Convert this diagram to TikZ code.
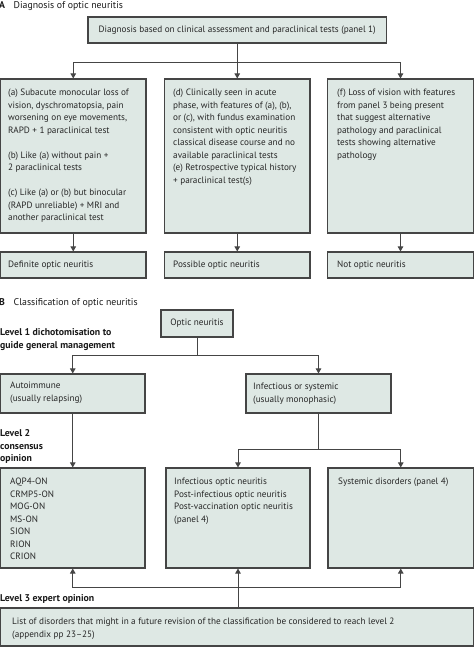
\documentclass[tikz,border=0pt]{standalone}
\usepackage{fontspec}
\setmainfont{PT Sans}
\usetikzlibrary{arrows.meta,fit}
\definecolor{boxfill}{HTML}{DEE8E4}
\definecolor{boxline}{HTML}{454545}
\newcommand{\fsz}{\fontsize{9.2}{12.5}\selectfont}
\newcommand{\hsz}{\fontsize{9.8}{12.6}\selectfont}
\tikzset{
  box/.style={draw=boxline, fill=boxfill, line width=1.1pt, inner sep=0pt},
  tx/.style={anchor=north west, inner sep=0pt, align=left, font=\fsz, text=black!85},
  hd/.style={anchor=north west, inner sep=0pt, align=left, font=\hsz, text=black!90},
  lab/.style={hd, font=\hsz\bfseries},
  conn/.style={draw=boxline, line width=1pt},
  arr/.style={conn, -{Triangle[width=5.5pt,length=5pt]}},
}
\begin{document}
\begin{tikzpicture}[x=1pt,y=-1pt]
\useasboundingbox (0,0) rectangle (474,648);
% ---------- A ----------
\node[lab] (hA) at (-1,-0.5) {\strut A};
\node[hd] (hAt) at (13.5,-0.5) {\strut Diagnosis of optic neuritis};
\node[box, fit={(88,17)(386.5,43)}] (top) {};
\node[font=\fsz, inner sep=0pt, text=black!85] (topt) at (top.center) {Diagnosis based on clinical assessment and paraclinical tests (panel 1)};
\node[box, fit={(0.5,79)(146,233)}] (a) {};
\node[box, fit={(164.5,79)(310,233)}] (d) {};
\node[box, fit={(327.5,79)(473.5,233)}] (f) {};
\node[box, fit={(0.5,252)(146,278)}] (def) {};
\node[box, fit={(164.5,252)(310,278)}] (pos) {};
\node[box, fit={(327.5,252)(473.5,278)}] (not) {};
\node[tx] (at) at (8,86.75) {\strut(a) Subacute monocular loss of\\vision, dyschromatopsia, pain\\worsening on eye movements,\\RAPD + 1 paraclinical test\\[12.5pt](b) Like (a) without pain +\\2 paraclinical tests\\[12.5pt](c) Like (a) or (b) but binocular\\(RAPD unreliable) + MRI and\\another paraclinical test};
\node[tx] (dt) at (173,86.75) {\strut(d) Clinically seen in acute\\phase, with features of (a), (b),\\or (c), with fundus examination\\consistent with optic neuritis\\classical disease course and no\\available paraclinical tests\\(e) Retrospective typical history\\+ paraclinical test(s)};
\node[tx] (ft) at (337,86.75) {\strut(f) Loss of vision with features\\from panel 3 being present\\that suggest alternative\\pathology and paraclinical\\tests showing alternative\\pathology};
\node[tx] (deft) at (8,258.75) {\strut Definite optic neuritis};
\node[tx] (post) at (173,258.75) {\strut Possible optic neuritis};
\node[tx] (nott) at (337,258.75) {\strut Not optic neuritis};
\coordinate (j1) at (237.25,62);
\draw[conn] (top.south) -- (j1);
\draw[arr] (j1) -| (a.north);
\draw[arr] (j1) -- (d.north);
\draw[arr] (j1) -| (f.north);
\draw[arr] (a.south) -- (def.north);
\draw[arr] (d.south) -- (pos.north);
\draw[arr] (f.south) -- (not.north);
% ---------- B ----------
\node[lab] (hB) at (-1,296.5) {\strut B};
\node[hd] (hBt) at (13.5,296.5) {\strut Classification of optic neuritis};
\node[box, fit={(161,310)(233,337)}] (on) {};
\node[font=\fsz, inner sep=0pt, text=black!85] (ont) at (on.center) {Optic neuritis};
\node[lab] (l1) at (0,326.5) {\strut Level 1 dichotomisation to\\guide general management};
\node[box, fit={(0.5,374)(145,413)}] (auto) {};
\node[box, fit={(246,374)(391,413)}] (inf) {};
\node[tx] (autot) at (10,379.75) {\strut Autoimmune\\(usually relapsing)};
\node[tx] (inft) at (253,380.75) {\strut Infectious or systemic\\(usually monophasic)};
\coordinate (j2) at (197,355);
\draw[conn] (on.south) -- (j2);
\draw[arr] (j2) -| (auto.north);
\draw[arr] (j2) -| (inf.north);
\node[lab] (l2) at (0,427.5) {\strut Level 2\\consensus\\opinion};
\node[box, fit={(0.5,468)(145,568)}] (la) {};
\node[box, fit={(166,468)(310,568)}] (lb) {};
\node[box, fit={(328,468)(473.5,568)}] (lc) {};
\node[tx] (lat) at (10,475.75) {\strut AQP4-ON\\CRMP5-ON\\MOG-ON\\MS-ON\\SION\\RION\\CRION};
\node[tx] (lbt) at (174,475.75) {\strut Infectious optic neuritis\\Post-infectious optic neuritis\\Post-vaccination optic neuritis\\(panel 4)};
\node[tx] (lct) at (338,475.75) {\strut Systemic disorders (panel 4)};
\draw[arr] (auto.south) -- (la.north);
\coordinate (j3) at (inf.south |- 0,449);
\draw[conn] (inf.south) -- (j3);
\draw[arr] (j3) -| (lb.north);
\draw[arr] (j3) -| (lc.north);
\node[lab] (l3) at (0,592.5) {\strut Level 3 expert opinion};
\node[box, fit={(0.5,608)(473.5,646)}] (l3b) {};
\node[tx] (l3t) at (12,615.75) {\strut List of disorders that might in a future revision of the classification be considered to reach level 2\\(appendix pp 23--25)};
\coordinate (j4) at (lb.south |- 0,587);
\draw[conn] (j4 |- l3b.north) -- (j4);
\draw[arr] (j4) -| (la.south);
\draw[arr] (j4) -- (lb.south);
\draw[arr] (j4) -| (lc.south);
\end{tikzpicture}
\end{document}
